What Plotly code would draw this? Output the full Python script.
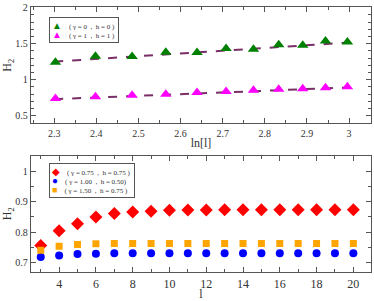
import plotly.graph_objects as go

# ---- Top panel data ----
ln_l = [2.303, 2.398, 2.485, 2.565, 2.639, 2.708, 2.773, 2.833, 2.890, 2.944, 2.996]
h2_g0_h0 = [1.243, 1.324, 1.320, 1.380, 1.378, 1.432, 1.423, 1.486, 1.477, 1.536, 1.523]
h2_g1_h1 = [0.739, 0.761, 0.784, 0.797, 0.820, 0.834, 0.851, 0.865, 0.874, 0.888, 0.901]
fit_x = [2.3, 3.0]
fit_g0_h0 = [1.250, 1.516]
fit_g1_h1 = [0.728, 0.892]

# ---- Bottom panel data ----
l_vals = list(range(3, 21))
h2_g075_h075 = [0.757, 0.805, 0.828, 0.850, 0.861, 0.866, 0.869, 0.872, 0.873, 0.873,
                0.874, 0.874, 0.874, 0.874, 0.874, 0.874, 0.874, 0.874]
h2_g100_h050 = [0.719, 0.724, 0.729, 0.730, 0.731, 0.731, 0.731, 0.731, 0.731, 0.731,
                0.731, 0.731, 0.731, 0.731, 0.731, 0.731, 0.731, 0.731]
h2_g150_h075 = [0.741, 0.754, 0.760, 0.762, 0.763, 0.763, 0.763, 0.763, 0.763, 0.763,
                0.763, 0.763, 0.763, 0.763, 0.763, 0.763, 0.763, 0.763]

labels_top = ["( γ = 0  ,  h = 0 )", "( γ = 1  ,  h = 1 )"]
labels_bot = ["( γ = 0.75  ,  h = 0.75 )", "( γ = 1.00  ,  h = 0.50)", "( γ = 1.50  ,  h = 0.75 )"]

top_xticks = [2.3, 2.4, 2.5, 2.6, 2.7, 2.8, 2.9, 3.0]
top_xtext = ["2.3", "2.4", "2.5", "2.6", "2.7", "2.8", "2.9", "3"]
top_xminor = [2.25, 2.35, 2.45, 2.55, 2.65, 2.75, 2.85, 2.95, 3.05]
top_yticks = [0.5, 1.0, 1.5, 2.0]
top_ytext = ["0.5", "1", "1.5", "2"]
top_yminor = [0.4, 0.6, 0.7, 0.8, 0.9, 1.1, 1.2, 1.3, 1.4, 1.6, 1.7, 1.8, 1.9]
bot_xticks = [4, 6, 8, 10, 12, 14, 16, 18, 20]
bot_xminor = [3, 5, 7, 9, 11, 13, 15, 17, 19]
bot_yticks = [0.7, 0.8, 0.9, 1.0]
bot_ytext = ["0.7", "0.8", "0.9", "1"]
bot_yminor = [0.75, 0.85, 0.95, 1.05]

FONT = "Liberation Serif"
AX = "#555555"
C_G, C_M = "#008000", "#ff00ff"
C_R, C_B, C_O = "#ff0000", "#0000ff", "#ffa500"

fig = go.Figure()

# top panel
fig.add_trace(go.Scatter(x=fit_x, y=fit_g0_h0, mode="lines", xaxis="x", yaxis="y",
                         line=dict(color="#7a2e68", width=2, dash="dash"), showlegend=False))
fig.add_trace(go.Scatter(x=fit_x, y=fit_g1_h1, mode="lines", xaxis="x", yaxis="y",
                         line=dict(color="#7a2e68", width=2, dash="dash"), showlegend=False))
fig.add_trace(go.Scatter(x=ln_l, y=h2_g0_h0, mode="markers", xaxis="x", yaxis="y",
                         marker=dict(symbol="triangle-up", size=10, color=C_G),
                         name=labels_top[0], showlegend=False))
fig.add_trace(go.Scatter(x=ln_l, y=h2_g1_h1, mode="markers", xaxis="x", yaxis="y",
                         marker=dict(symbol="triangle-up", size=10, color=C_M),
                         name=labels_top[1], showlegend=False))

# bottom panel
fig.add_trace(go.Scatter(x=l_vals, y=h2_g075_h075, mode="markers", xaxis="x2", yaxis="y2",
                         marker=dict(symbol="diamond", size=10, color=C_R),
                         name=labels_bot[0], showlegend=False))
fig.add_trace(go.Scatter(x=l_vals, y=h2_g100_h050, mode="markers", xaxis="x2", yaxis="y2",
                         marker=dict(symbol="circle", size=8, color=C_B),
                         name=labels_bot[1], showlegend=False))
fig.add_trace(go.Scatter(x=l_vals, y=h2_g150_h075, mode="markers", xaxis="x2", yaxis="y2",
                         marker=dict(symbol="square", size=7, color=C_O),
                         name=labels_bot[2], showlegend=False))

def minor(vals):
    return dict(tickmode="array", tickvals=vals, ticks="inside", ticklen=3, tickcolor=AX)

def axis_common(**kw):
    d = dict(showline=True, linecolor=AX, linewidth=1.3, mirror="allticks",
             ticks="inside", ticklen=5, tickcolor=AX, tickwidth=1,
             showgrid=False, zeroline=False, tickmode="array",
             ticklabeloverflow="allow",
             tickfont=dict(family=FONT, size=10, color="#333"))
    d.update(kw)
    return d

def legend_text(symbols, colors, labels, sizes):
    rows = []
    for s, c, lab, sz in zip(symbols, colors, labels, sizes):
        rows.append(f"<span style='color:{c};font-size:{sz}px'>{s}</span>"
                    f"&nbsp;&nbsp;&nbsp;&nbsp;{lab}&nbsp;")
    return "<br>".join(rows)

annotations = [
    dict(xref="paper", yref="paper", x=0.053, y=0.963, xanchor="left", yanchor="top",
         text=legend_text(["▲", "▲"], [C_G, C_M], labels_top, [10, 10]),
         showarrow=False, align="left", bgcolor="white", bordercolor=AX, borderwidth=1,
         borderpad=2, font=dict(family=FONT, size=7, color="#333")),
    dict(xref="paper", yref="paper", x=0.053, y=0.412, xanchor="left", yanchor="top",
         text=legend_text(["◆", "●", "■"], [C_R, C_B, C_O], labels_bot, [10, 10, 9]),
         showarrow=False, align="left", bgcolor="white", bordercolor=AX, borderwidth=1,
         borderpad=2, font=dict(family=FONT, size=7, color="#333")),
]

layout = dict(
    width=374, height=301,
    margin=dict(l=31, r=2, t=4, b=24),
    paper_bgcolor="white", plot_bgcolor="white",
    font=dict(family=FONT, color="#333"),
    showlegend=False,
    annotations=annotations,
    xaxis=axis_common(domain=[0, 1], range=[2.245, 3.052], anchor="y",
                      tickvals=top_xticks, ticktext=top_xtext, minor=minor(top_xminor),
                      title=dict(text="ln[l]", font=dict(family=FONT, size=12), standoff=0)),
    yaxis=axis_common(domain=[0.5604, 1], range=[0.39, 2.01], anchor="x",
                      tickvals=top_yticks, ticktext=top_ytext, minor=minor(top_yminor),
                      title=dict(text="H<sub>2</sub>", font=dict(family=FONT, size=12), standoff=4)),
    xaxis2=axis_common(domain=[0, 1], range=[2.47, 20.96], anchor="y2",
                       tickvals=bot_xticks, ticktext=[str(v) for v in bot_xticks],
                       tickfont=dict(family=FONT, size=12, color="#333"),
                       minor=minor(bot_xminor),
                       title=dict(text="l", font=dict(family=FONT, size=12), standoff=0)),
    yaxis2=axis_common(domain=[0, 0.4396], range=[0.67, 1.051], anchor="x2",
                       tickvals=bot_yticks, ticktext=bot_ytext, minor=minor(bot_yminor),
                       title=dict(text="H<sub>2</sub>", font=dict(family=FONT, size=12), standoff=4)),
)
fig.update_layout(**layout)
fig.write_html("out.html", config={"displayModeBar": False},
               post_script="document.body.style.margin='0px';document.body.style.padding='0px';")
